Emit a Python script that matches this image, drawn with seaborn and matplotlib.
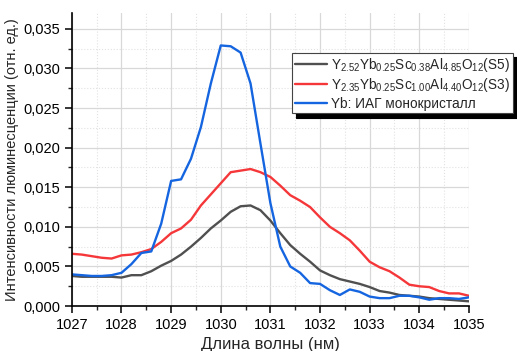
import numpy as np
import pandas as pd
import matplotlib
matplotlib.use("Agg")
import matplotlib.pyplot as plt
import seaborn as sns
from matplotlib.ticker import MultipleLocator, FuncFormatter

wavelength = [1027.0 + 0.2 * i for i in range(41)]

s5 = [0.0038, 0.0037, 0.0037, 0.0037, 0.0037, 0.0036, 0.0039, 0.0039, 0.0044, 0.0051,
      0.0057, 0.0065, 0.0075, 0.0086, 0.0098, 0.0108, 0.0119, 0.0126, 0.0127, 0.0121,
      0.0108, 0.0092, 0.0077, 0.0066, 0.0056, 0.0045, 0.0039, 0.0034, 0.0031, 0.0028,
      0.0024, 0.0019, 0.0017, 0.0014, 0.0013, 0.0012, 0.0010, 0.0009, 0.0008, 0.0007,
      0.0006]
s3 = [0.0066, 0.0065, 0.0063, 0.0061, 0.0060, 0.0064, 0.0065, 0.0068, 0.0072, 0.0081,
      0.0092, 0.0098, 0.0109, 0.0127, 0.0141, 0.0155, 0.0169, 0.0171, 0.0173, 0.0169,
      0.0163, 0.0152, 0.0140, 0.0133, 0.0125, 0.0112, 0.0100, 0.0092, 0.0083, 0.0070,
      0.0056, 0.0049, 0.0044, 0.0036, 0.0027, 0.0025, 0.0024, 0.0019, 0.0016, 0.0016,
      0.0013]
yag = [0.0040, 0.0039, 0.0038, 0.0038, 0.0039, 0.0042, 0.0053, 0.0067, 0.0069, 0.0104,
       0.0158, 0.0160, 0.0186, 0.0226, 0.0281, 0.0329, 0.0328, 0.0320, 0.0281, 0.0205,
       0.0130, 0.0075, 0.0050, 0.0042, 0.0029, 0.0028, 0.0020, 0.0014, 0.0021, 0.0018,
       0.0012, 0.0010, 0.0010, 0.0013, 0.0013, 0.0011, 0.0008, 0.0010, 0.0010, 0.0009,
       0.0011]

labels = [
    r'Y$\mathregular{_{2.52}}$Yb$\mathregular{_{0.25}}$Sc$\mathregular{_{0.38}}$Al$\mathregular{_{4.85}}$O$\mathregular{_{12}}$(S5)',
    r'Y$\mathregular{_{2.35}}$Yb$\mathregular{_{0.25}}$Sc$\mathregular{_{1.00}}$Al$\mathregular{_{4.40}}$O$\mathregular{_{12}}$(S3)',
    'Yb: ИАГ монокристалл',
]
colors = ['#505050', '#f5373a', '#1565e0']

df = pd.concat([
    pd.DataFrame({'wl': wavelength, 'val': s, 'series': lab})
    for s, lab in zip([s5, s3, yag], labels)
])

sns.set_style('white')
plt.rcParams['font.family'] = ['Liberation Sans', 'DejaVu Sans']
plt.rcParams['mathtext.fontset'] = 'custom'
plt.rcParams['mathtext.rm'] = 'Liberation Sans'

fig = plt.figure(figsize=(5.17, 3.51), dpi=100)
ax = fig.add_axes([0.139, 0.128, 0.768, 0.835])

sns.lineplot(data=df, x='wl', y='val', hue='series', hue_order=labels,
             palette=colors, linewidth=1.7, ax=ax, legend=True)

ax.set_xlim(1027, 1035)
ax.set_ylim(0, 0.037)
ax.xaxis.set_major_locator(MultipleLocator(1))
ax.xaxis.set_minor_locator(MultipleLocator(0.5))
ax.yaxis.set_major_locator(MultipleLocator(0.005))
ax.yaxis.set_minor_locator(MultipleLocator(0.0025))
ax.yaxis.set_major_formatter(FuncFormatter(lambda v, p: f'{v:.3f}'.replace('.', ',')))
ax.xaxis.set_major_formatter(FuncFormatter(lambda v, p: f'{v:.0f}'))

ax.grid(which='major', color='#d8d8d8', linewidth=0.9, linestyle='-')
ax.grid(which='minor', color='#e2e2e2', linewidth=0.8, linestyle=':')
ax.set_axisbelow(True)

for s in ['top', 'right']:
    ax.spines[s].set_visible(False)
for s in ['left', 'bottom']:
    ax.spines[s].set_color('black')
    ax.spines[s].set_linewidth(1.2)

ax.tick_params(which='major', direction='out', length=5, width=1.1, labelsize=10.5,
               bottom=True, left=True, colors='black')
ax.tick_params(which='minor', direction='out', length=3, width=1.0,
               bottom=True, left=True)

ax.set_xlabel('Длина волны (нм)', fontsize=12, labelpad=4)
ax.set_ylabel('Интенсивности люминесценции (отн. ед.)', fontsize=10.5, labelpad=3)

handles, labs = ax.get_legend_handles_labels()
leg = ax.legend(handles, labs, loc='upper left', bbox_to_anchor=(292 / 517, 1 - 53 / 351),
                bbox_transform=fig.transFigure, fontsize=9.8, frameon=True, fancybox=False,
                shadow={'color': 'black', 'alpha': 1, 'ox': 3, 'oy': -3}, handlelength=2.4,
                handletextpad=0.3, borderpad=0.2, labelspacing=0.18, borderaxespad=0)
leg.get_frame().set_edgecolor('#444444')
leg.get_frame().set_linewidth(0.8)
for line in leg.get_lines():
    line.set_linewidth(1.7)

fig.savefig('out.png', dpi=100)
